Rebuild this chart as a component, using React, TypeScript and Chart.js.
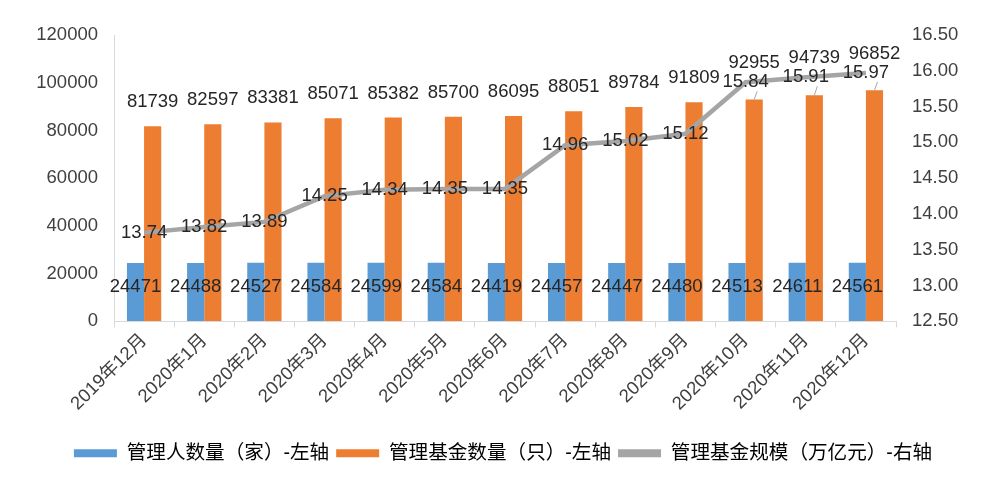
import React, { useEffect, useRef } from "react";
import { Chart, registerables } from "chart.js";

Chart.register(...registerables);

const categories = [
  "2019年12月", "2020年1月", "2020年2月", "2020年3月", "2020年4月", "2020年5月", "2020年6月",
  "2020年7月", "2020年8月", "2020年9月", "2020年10月", "2020年11月", "2020年12月",
];
const managers = [24471, 24488, 24527, 24584, 24599, 24584, 24419, 24457, 24447, 24480, 24513, 24611, 24561];
const funds = [81739, 82597, 83381, 85071, 85382, 85700, 86095, 88051, 89784, 91809, 92955, 94739, 96852];
const fundScale = [13.74, 13.82, 13.89, 14.25, 14.34, 14.35, 14.35, 14.96, 15.02, 15.12, 15.84, 15.91, 15.97];
const seriesNames = ["管理人数量（家）-左轴", "管理基金数量（只）-左轴", "管理基金规模（万亿元）-右轴"];
const leftAxis = { min: 0, max: 120000, step: 20000 };
const rightAxis = { min: 12.5, max: 16.5, step: 0.5 };

const BLUE = "#5B9BD5";
const ORANGE = "#ED7D31";
const GRAY = "#A5A5A5";
const FONT = "'Liberation Sans', 'Noto Sans CJK SC', sans-serif";

const labelPlugin = {
  id: "valueLabels",
  afterDatasetsDraw(chart: any) {
    const ctx = chart.ctx;
    const m0 = chart.getDatasetMeta(0);
    const m1 = chart.getDatasetMeta(1);
    const m2 = chart.getDatasetMeta(2);
    ctx.save();
    ctx.font = `18.5px ${FONT}`;
    ctx.textAlign = "center";
    ctx.textBaseline = "middle";
    const orangeY: number[] = [];
    m1.data.forEach((bar: any, i: number) => {
      const lineY = m2.data[i].y;
      let y = bar.y - 24;
      if (Math.abs(y - lineY) < 20) {
        y = lineY - 19;
        ctx.strokeStyle = "#A6A6A6";
        ctx.lineWidth = 1;
        ctx.beginPath();
        ctx.moveTo(bar.x, bar.y);
        ctx.lineTo(bar.x + 3, lineY + 9);
        ctx.stroke();
      }
      orangeY.push(y);
    });
    ctx.fillStyle = "#262626";
    m0.data.forEach((bar: any, i: number) => {
      ctx.fillText(String(managers[i]), bar.x, bar.y + 24);
    });
    m1.data.forEach((bar: any, i: number) => {
      ctx.fillText(String(funds[i]), bar.x, orangeY[i]);
    });
    m2.data.forEach((pt: any, i: number) => {
      ctx.fillText(fundScale[i].toFixed(2), pt.x, pt.y);
    });
    ctx.restore();
  },
};

export default function App() {
  const ref = useRef<HTMLCanvasElement>(null);
  useEffect(() => {
    document.body.style.margin = "0";
    Chart.defaults.font.family = FONT;
    const chart = new Chart(ref.current!, {
      type: "bar",
      data: {
        labels: categories,
        datasets: [
          {
            type: "bar",
            label: seriesNames[0],
            data: managers,
            backgroundColor: BLUE,
            yAxisID: "y",
            categoryPercentage: 0.57,
            barPercentage: 1,
            order: 1,
          },
          {
            type: "bar",
            label: seriesNames[1],
            data: funds,
            backgroundColor: ORANGE,
            yAxisID: "y",
            categoryPercentage: 0.57,
            barPercentage: 1,
            order: 1,
          },
          {
            type: "line",
            label: seriesNames[2],
            data: fundScale,
            borderColor: GRAY,
            backgroundColor: GRAY,
            borderWidth: 4.5,
            pointRadius: 0,
            tension: 0,
            yAxisID: "y1",
            order: 0,
          } as any,
        ],
      },
      options: {
        responsive: false,
        animation: false,
        layout: { padding: { top: 35, left: 6, right: 0, bottom: 7 } },
        plugins: {
          tooltip: { enabled: false },
          legend: {
            position: "bottom",
            labels: {
              font: { size: 19.6, family: FONT },
              color: "#404040",
              boxWidth: 43,
              boxHeight: 8,
              padding: 7,
              generateLabels: () => [
                { text: seriesNames[0], fillStyle: BLUE, strokeStyle: BLUE, lineWidth: 0, datasetIndex: 0, hidden: false },
                { text: seriesNames[1], fillStyle: ORANGE, strokeStyle: ORANGE, lineWidth: 0, datasetIndex: 1, hidden: false },
                { text: seriesNames[2], fillStyle: GRAY, strokeStyle: GRAY, lineWidth: 0, datasetIndex: 2, hidden: false },
              ] as any,
            },
          },
        },
        scales: {
          x: {
            offset: true,
            grid: {
              offset: true,
              drawOnChartArea: false,
              drawTicks: true,
              tickLength: 6,
              color: "#D9D9D9",
            },
            border: { display: true, color: "#D9D9D9", width: 1 },
            ticks: {
              font: { size: 18.5, family: FONT },
              color: "#404040",
              maxRotation: 45,
              minRotation: 45,
              autoSkip: false,
              padding: 2,
            },
            afterFit(scale: any) {
              scale.height = 115;
            },
          },
          y: {
            position: "left",
            min: leftAxis.min,
            max: leftAxis.max,
            grid: { drawOnChartArea: false, drawTicks: false },
            border: { display: true, color: "#D9D9D9", width: 1 },
            ticks: {
              stepSize: leftAxis.step,
              font: { size: 18.5, family: FONT },
              color: "#404040",
              padding: 16,
              callback: (v: any) => String(v),
            },
            afterFit(scale: any) {
              scale.width = 108;
            },
          },
          y1: {
            position: "right",
            min: rightAxis.min,
            max: rightAxis.max,
            grid: { drawOnChartArea: false, drawTicks: false },
            border: { display: false },
            ticks: {
              stepSize: rightAxis.step,
              font: { size: 18.5, family: FONT },
              color: "#404040",
              padding: 16,
              callback: (v: any) => Number(v).toFixed(2),
            },
            afterFit(scale: any) {
              scale.width = 104;
            },
          },
        },
      },
      plugins: [labelPlugin],
    });
    return () => chart.destroy();
  }, []);
  return (
    <div style={{ width: 1000, height: 480, background: "#fff" }}>
      <canvas ref={ref} width={1000} height={480} />
    </div>
  );
}
